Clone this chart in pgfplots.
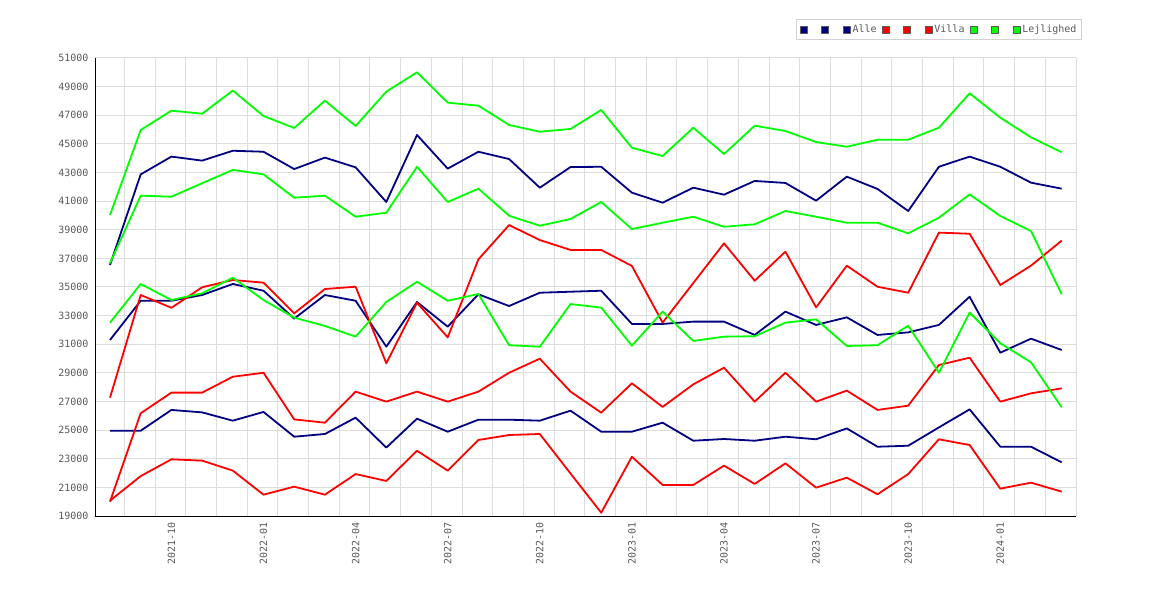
\documentclass[border=0pt]{standalone}
\usepackage{fontspec}
\setmainfont{DejaVu Sans Mono}
\usepackage{pgfplots}
\usepackage{pgfplotstable}
\pgfplotsset{compat=1.18}
\definecolor{navyc}{RGB}{0,0,128}
\definecolor{redc}{RGB}{255,0,0}
\definecolor{greenc}{RGB}{0,255,0}
\definecolor{gridc}{RGB}{221,221,221}
\definecolor{labc}{RGB}{90,90,90}
\definecolor{legb}{RGB}{210,210,210}
\newcommand\lf{\fontsize{10}{12}\selectfont}
\newcommand\emptyentry{\makebox[7pt]{}}

\pgfplotstableread{
x a1 a2 a3
0 36540 31300 24960
1 42870 34040 24960
2 44110 34040 26410
3 43830 34440 26240
4 44520 35210 25660
5 44450 34740 26270
6 43240 32790 24540
7 44040 34440 24730
8 43360 34040 25870
9 40940 30830 23780
10 45620 33950 25800
11 43270 32230 24890
12 44450 34490 25730
13 43940 33670 25730
14 41940 34600 25660
15 43380 34670 26360
16 43400 34740 24890
17 41590 32420 24890
18 40890 32420 25520
19 41940 32580 24260
20 41450 32580 24380
21 42410 31650 24260
22 42270 33280 24540
23 41030 32350 24360
24 42710 32880 25120
25 41850 31650 23840
26 40310 31830 23910
27 43400 32350 25190
28 44110 34320 26450
29 43400 30410 23840
30 42290 31390 23840
31 41870 30600 22750
}\alle

\pgfplotstableread{
x v1 v2 v3
0 27270 20000 20070
1 34440 26180 21790
2 33550 27620 22960
3 34980 27620 22870
4 35490 28730 22170
5 35300 29010 20490
6 33160 25750 21050
7 34860 25520 20490
8 35020 27690 21930
9 29670 26990 21450
10 33900 27690 23560
11 31480 26990 22170
12 36930 27690 24310
13 39330 29010 24660
14 38280 29990 24730
15 37590 27690 21970
16 37590 26220 19230
17 36470 28270 23140
18 32510 26620 21170
19 35280 28200 21170
20 38050 29360 22520
21 35440 26990 21240
22 37470 29010 22680
23 33580 26990 20980
24 36490 27760 21680
25 35020 26410 20520
26 34600 26710 21930
27 38800 29550 24360
28 38720 30060 23960
29 35140 26990 20910
30 36490 27570 21330
31 38240 27920 20700
}\villa

\pgfplotstableread{
x l1 l2 l3
0 40030 36660 32510
1 45970 41380 35210
2 47320 41310 34090
3 47110 42250 34560
4 48720 43180 35650
5 46950 42870 34090
6 46110 41240 32860
7 48020 41380 32280
8 46250 39910 31530
9 48650 40190 33950
10 50000 43400 35370
11 47880 40940 34040
12 47670 41870 34510
13 46320 39980 30930
14 45850 39280 30830
15 46040 39750 33810
16 47370 40940 33560
17 44730 39050 30900
18 44150 39490 33280
19 46130 39910 31230
20 44290 39210 31530
21 46270 39380 31560
22 45900 40310 32510
23 45130 39910 32740
24 44800 39490 30880
25 45290 39490 30930
26 45290 38750 32300
27 46130 39840 29010
28 48530 41470 33210
29 46830 39960 31070
30 45460 38910 29740
31 44410 34490 26590
}\lejl

\begin{document}
\begin{tikzpicture}[x=1pt,y=1pt]
\useasboundingbox (0,0) rectangle (1170,600);
\begin{axis}[
  at={(95pt,84pt)}, anchor=south west,
  scale only axis, width=981pt, height=458pt,
  xmin=-0.489, xmax=31.466, ymin=19000, ymax=51000,
  axis x line*=bottom, axis y line*=left,
  axis line style={black, line width=1pt},
  scaled y ticks=false,
  ytick={19000,21000,23000,25000,27000,29000,31000,33000,35000,37000,39000,41000,43000,45000,47000,49000,51000},
  yticklabels={19000,21000,23000,25000,27000,29000,31000,33000,35000,37000,39000,41000,43000,45000,47000,49000,51000},
  xtick={2,5,8,11,14,17,20,23,26,29},
  xticklabels={2021-10,2022-01,2022-04,2022-07,2022-10,2023-01,2023-04,2023-07,2023-10,2024-01},
  minor xtick={0.466,1.466,2.466,3.466,4.466,5.466,6.466,7.466,8.466,9.466,10.466,11.466,12.466,13.466,14.466,15.466,16.466,17.466,18.466,19.466,20.466,21.466,22.466,23.466,24.466,25.466,26.466,27.466,28.466,29.466,30.466,31.466},
  xminorgrids=true, xmajorgrids=false, ymajorgrids=true,
  grid style={gridc, line width=1pt},
  minor grid style={gridc, line width=1pt},
  major tick length=0pt, minor tick length=0pt,
  tick style={draw=none},
  /pgf/number format/assume math mode=true,
  xticklabel style={rotate=90, anchor=east, font=\lf, text=labc, xshift=-3pt},
  yticklabel style={font=\lf, text=labc, xshift=-3pt},
  every axis plot/.append style={line width=1.8pt, line join=round, mark=none},
  legend columns=-1,
  legend style={at={(1,1)}, anchor=south east, xshift=6pt, yshift=18pt,
    draw=legb, fill=white, font=\lf, text=labc, line width=1pt,
    inner xsep=3pt, inner ysep=3.5pt,
    /tikz/every even column/.append style={column sep=3pt}},
  legend image code/.code={\draw[#1, draw=labc, fill, line width=0.6pt] (0pt,-3.5pt) rectangle (7pt,3.5pt);},
]
\addplot[navyc] table[x=x,y=a1] {\alle}; \addlegendentry{\emptyentry}
\addplot[navyc] table[x=x,y=a2] {\alle}; \addlegendentry{\emptyentry}
\addplot[navyc] table[x=x,y=a3] {\alle}; \addlegendentry{Alle}
\addplot[redc] table[x=x,y=v1] {\villa}; \addlegendentry{\emptyentry}
\addplot[redc] table[x=x,y=v2] {\villa}; \addlegendentry{\emptyentry}
\addplot[redc] table[x=x,y=v3] {\villa}; \addlegendentry{Villa}
\addplot[greenc] table[x=x,y=l1] {\lejl}; \addlegendentry{\emptyentry}
\addplot[greenc] table[x=x,y=l2] {\lejl}; \addlegendentry{\emptyentry}
\addplot[greenc] table[x=x,y=l3] {\lejl}; \addlegendentry{Lejlighed}
\end{axis}
\end{tikzpicture}
\end{document}
